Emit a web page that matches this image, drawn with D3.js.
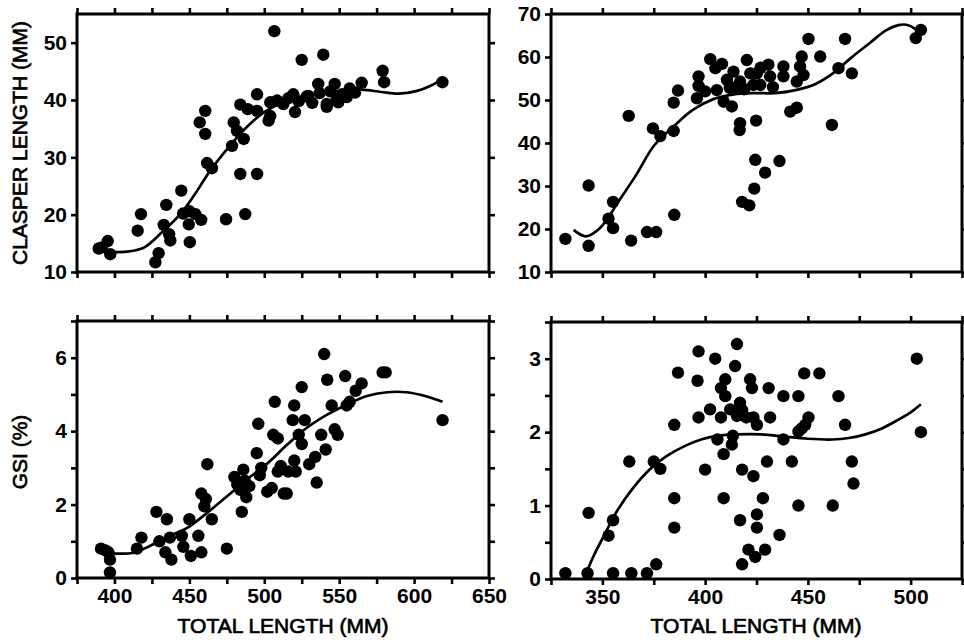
<!DOCTYPE html>
<html>
<head>
<meta charset="utf-8">
<script src="https://cdn.jsdelivr.net/npm/d3@7"></script>
<style>
  html, body { margin: 0; padding: 0; background: #fff; }
  svg { display: block; }
  .tick text { font-family: "Liberation Sans", Arial, sans-serif; font-weight: bold; font-size: 21px; fill: #000; }
  .title { font-family: "Liberation Sans", Arial, sans-serif; font-size: 21px; fill: #000; stroke: #000; stroke-width: 0.7px; }
</style>
</head>
<body>
<svg id="chart" width="964" height="642"></svg>
<script>
// ---- Tick values and labels ----
const xTicksMale = [375, 400, 425, 450, 475, 500, 525, 550, 575, 600, 625, 650];
const xLabelsMale = [400, 450, 500, 550, 600, 650];
const xTicksSub = [325, 350, 375, 400, 425, 450, 475, 500, 525];
const xLabelsSub = [350, 400, 450, 500];
const yTicksClasperA = [10, 20, 30, 40, 50];
const yTicksClasperB = [10, 20, 30, 40, 50, 60, 70];
const yTicksGsiA = [0, 1, 2, 3, 4, 5, 6, 7];
const yLabelsGsiA = [0, 2, 4, 6];
const yTicksGsiB = [0, 0.5, 1, 1.5, 2, 2.5, 3, 3.5];
const yLabelsGsiB = [0, 1, 2, 3];

// ---- Clasper length vs total length, first sample ----
const clasperA = [
  [389.5,14.1],[391.7,14.3],[395.5,15.4],[397.2,13.1],
  [415.5,17.2],[417.7,20.1],[427.3,11.7],[429.5,13.3],
  [432.9,18.2],[434.6,21.7],[436.5,16.6],[437.3,15.5],
  [444.6,24.2],[445.8,20.2],[449.6,18.3],[450.3,15.2],[450,20.6],[454,20.1],[457.9,19.1],
  [456.9,36.1],[460.6,38.1],[460.6,34.1],[461.8,29],[465.1,28.1],
  [474.5,19.2],[478.5,32],[479.6,36.1],[481.8,34.6],[484,27.1],[484,39.2],[486.3,33.2],[487.3,20.1],
  [489,38.4],[495.2,41],[495.2,38.1],[495.2,27.1],[502.9,36.4],[504,39.6],[504,37.2],[506.7,52],[508.5,39.9],
  [512.7,39.3],[516,40.3],[519.4,41],[520.5,37.9],[523,39.8],[525,47],[528.3,40.6],[529.4,40.7],[532,39.5],[536,42.8],[537,41.2],
  [539.4,47.9],[541.7,39.3],[541.7,38.8],[544,41.5],[547,42.8],[548.3,40],[549.4,39.6],[552,41],[555,40.5],[557,42],[560.6,41.3],[565,43],
  [579,45.1],[580,43.1],[618.9,43.1]
];
const clasperAFit = [
  [394,13.8],[400,13.5],[410,13.6],[420,14.3],[432,17],[444,20.1],[453,23.3],[464,27.7],[477,32],[488,35.2],
  [500,37.9],[513,39.6],[530,40.8],[550,41.6],[565,41.8],[578,41.4],[590,41.1],[602,41.6],[611,42.5],[619,43.7]
];

// ---- Clasper length vs total length, second sample ----
const clasperB = [
  [332,17.7],[343.3,16.1],[343.3,30.1],[353,22.4],[355.2,26.3],[355.2,20.2],[362.8,46.3],[364,17.3],
  [371.7,19.3],[376.2,19.3],[374.6,43.4],[378.2,41.6],[384.7,42.8],[385,23.3],[384.7,49.4],[386.8,52.2],
  [396,50.4],[396.8,55.5],[396.8,53.3],[400,52],[402.5,59.5],[405,57.4],[408.2,58.4],[405.7,52.3],[409,49.6],[413,48.5],
  [410.6,54.7],[413.8,56.6],[417,54.3],[420.3,59.3],[422,56.2],[423.5,53.5],[415,53],[419,52.5],[412,52.8],
  [417,44.6],[416.8,43],[424.8,45.2],[424.4,36.1],[423.9,29.4],[418,26.3],[421.5,25.5],
  [425.2,56.2],[426.8,53.5],[430.8,58.2],[431.6,55.5],[427,57.5],[433,53],
  [438.1,57.8],[438.1,55.5],[436.2,35.8],[429.2,33.1],[441.4,47.3],[444.6,48.2],
  [444.6,54.3],[446.2,57.8],[447,60.1],[447.9,55.8],[450.3,64.2],[456,60.1],
  [461.7,44.2],[464.9,57.4],[468.1,64.2],[471.4,56.2],[502.5,64.4],[505,66.3]
];
const clasperBFit = [
  [336,19.8],[342,18.3],[349,20.3],[358,26.5],[367,33],[375,39.3],[385,44],[394,47.7],[404,50.2],[414,51.3],
  [424,51.6],[434,51.6],[444,52.3],[454,53.8],[463,56.5],[471,59.8],[480,63.2],[488,66.2],[494,67.4],[498,67.5],[502,66.6],[505,65]
];

// ---- GSI vs total length, first sample ----
const gsiA = [
  [391,0.8],[394,0.75],[396,0.7],[397,0.5],[397,0.15],[415,0.8],[418,1.1],[428,1.8],[435,1.6],[430,1.0],
  [434,0.7],[437,1.1],[438,0.5],[445,1.15],[446,0.85],[450,1.6],[451,0.6],[456,1.15],[458,0.7],[458,2.3],
  [461,2.15],[460,1.95],[462,3.1],[465,1.6],[475,0.8],[480,2.75],[482,2.55],[484,2.4],[485,1.8],[486,2.95],
  [487,2.65],[488,2.2],[490,2.5],[495,3.4],[496,4.2],[497,2.8],[498,3.0],[502,2.35],[505,2.45],[506,3.9],
  [507,4.8],[509,3.8],[509,2.9],[511,3.05],[513,2.3],[515,2.3],[516,2.9],[519,4.3],[520,4.7],[520,3.2],
  [521,2.9],[523,3.9],[525,5.2],[525,3.65],[527,4.3],[530,3.1],[534,3.3],[535,2.6],[538,3.9],[540,6.1],
  [541,3.5],[542,5.4],[545,4.7],[547,4.05],[549,3.9],[554,5.5],[555,4.7],[557,4.8],[561,5.1],[565,5.3],
  [579,5.6],[581,5.6],[619,4.3]
];
const gsiAFit = [
  [395,0.68],[412,0.68],[421,0.82],[435,1.12],[448,1.35],[462,1.78],[475,2.22],[488,2.67],[502,3.12],[515,3.62],
  [528,4.08],[542,4.45],[555,4.72],[568,4.95],[582,5.06],[595,5.06],[608,4.95],[619,4.8]
];

// ---- GSI vs total length, second sample ----
const gsiB = [
  [332,0.08],[342.8,0.08],[343.3,0.9],[355.2,0.8],[353,0.59],[355.2,0.08],[364.1,0.08],[371.7,0.08],[376.2,0.2],
  [363.1,1.6],[375,1.6],[378.2,1.5],[385,2.1],[385,1.1],[385,0.7],[386.8,2.81],
  [396.8,3.1],[396.3,2.7],[396.8,2.2],[400,1.49],[402.4,2.31],[404.9,3.0],[406,1.9],[407.7,2.2],[407.7,2.6],[409.8,2.72],[409.8,2.49],
  [409,1.7],[409,1.1],[412.2,2.31],[413,1.83],[413.5,1.95],[415.5,3.2],[414.6,2.9],[417,2.4],[415.5,2.22],[418,2.3],[418,1.49],
  [421.9,2.72],[422.8,2.6],[420,2.2],[423.5,2.2],[425.2,2.1],[417,0.8],[418,0.2],[421.1,0.4],[424.4,0.3],[423.5,1.4],[425.2,0.88],[425.2,0.7],
  [430.9,2.6],[431.6,2.2],[430.1,1.6],[428.1,1.1],[429.2,0.4],[436.2,0.6],
  [438.1,2.49],[438.1,1.9],[442.2,1.6],[445.4,2.49],[445.4,2.01],[445.4,1.0],[447,2.05],[448.7,2.1],[450.3,2.2],[448.2,2.8],[455.6,2.8],
  [462.1,1.0],[464.9,2.49],[468.1,2.1],[471.4,1.6],[472.2,1.3],[503,3.0],[505,2.0]
];
const gsiBFit = [
  [341,0],[346,0.33],[351,0.6],[357,0.92],[365,1.24],[373,1.49],[381,1.67],[390,1.81],[398,1.9],[406,1.95],
  [416,1.97],[427,1.97],[438,1.94],[450,1.91],[462,1.9],[470,1.92],[478,1.97],[486,2.05],[494,2.17],[500,2.27],[505,2.38]
];

const svg = d3.select("#chart");
svg.append("rect").attr("width", 964).attr("height", 642).attr("fill", "#fff");

function drawPanel(cfg) {
  const x = d3.scaleLinear().domain(cfg.xDomain).range([cfg.left, cfg.right]);
  const y = d3.scaleLinear().domain(cfg.yDomain).range([cfg.bottom, cfg.top]);
  const g = svg.append("g");

  const fmt = labels => d => (labels && labels.includes(d)) ? d3.format("d")(d) : "";

  const axes = [
    [d3.axisBottom(x).tickValues(cfg.xTicks).tickFormat(fmt(cfg.xLabels)), `translate(0,${cfg.bottom})`],
    [d3.axisTop(x).tickValues(cfg.xTicks).tickFormat(() => ""), `translate(0,${cfg.top})`],
    [d3.axisLeft(y).tickValues(cfg.yTicks).tickFormat(fmt(cfg.yLabels)), `translate(${cfg.left},0)`],
    [d3.axisRight(y).tickValues(cfg.yTicks).tickFormat(() => ""), `translate(${cfg.right},0)`]
  ];
  axes.forEach(([ax, tr]) => {
    const a = g.append("g").attr("transform", tr)
      .call(ax.tickSize(6).tickSizeOuter(0).tickPadding(4));
    a.select(".domain").remove();
    a.selectAll(".tick line").attr("stroke", "#000").attr("stroke-width", 2.6);
  });

  // frame
  g.append("rect")
    .attr("x", cfg.left).attr("y", cfg.top)
    .attr("width", cfg.right - cfg.left).attr("height", cfg.bottom - cfg.top)
    .attr("fill", "none").attr("stroke", "#000").attr("stroke-width", 3);

  // fitted curve
  g.append("path")
    .datum(cfg.fit)
    .attr("fill", "none").attr("stroke", "#000").attr("stroke-width", 2.7)
    .attr("d", d3.line().x(d => x(d[0])).y(d => y(d[1])).curve(d3.curveCatmullRom.alpha(0.5)));

  // observations
  g.selectAll("circle.pt").data(cfg.points).join("circle")
    .attr("class", "pt")
    .attr("cx", d => x(d[0])).attr("cy", d => y(d[1]))
    .attr("r", 6.2).attr("fill", "#000");
}

drawPanel({ left: 77, right: 489, top: 14, bottom: 272, xDomain: [375, 650], yDomain: [10, 55],
  xTicks: xTicksMale, xLabels: null, yTicks: yTicksClasperA, yLabels: yTicksClasperA, points: clasperA, fit: clasperAFit });
drawPanel({ left: 551, right: 962, top: 14, bottom: 272, xDomain: [325, 525], yDomain: [10, 70],
  xTicks: xTicksSub, xLabels: null, yTicks: yTicksClasperB, yLabels: yTicksClasperB, points: clasperB, fit: clasperBFit });
drawPanel({ left: 77, right: 489, top: 321, bottom: 578, xDomain: [375, 650], yDomain: [0, 7],
  xTicks: xTicksMale, xLabels: xLabelsMale, yTicks: yTicksGsiA, yLabels: yLabelsGsiA, points: gsiA, fit: gsiAFit });
drawPanel({ left: 551, right: 962, top: 322, bottom: 579, xDomain: [325, 525], yDomain: [0, 3.5],
  xTicks: xTicksSub, xLabels: xLabelsSub, yTicks: yTicksGsiB, yLabels: yLabelsGsiB, points: gsiB, fit: gsiBFit });

// axis titles
svg.append("text").attr("class", "title")
  .attr("transform", "translate(20,143) rotate(-90)")
  .attr("text-anchor", "middle").attr("dy", "0.35em")
  .text("CLASPER LENGTH (MM)");
svg.append("text").attr("class", "title")
  .attr("transform", "translate(20,452) rotate(-90)")
  .attr("text-anchor", "middle").attr("dy", "0.35em")
  .text("GSI (%)");
svg.append("text").attr("class", "title")
  .attr("x", 283).attr("y", 633).attr("text-anchor", "middle")
  .text("TOTAL LENGTH (MM)");
svg.append("text").attr("class", "title")
  .attr("x", 756).attr("y", 633).attr("text-anchor", "middle")
  .text("TOTAL LENGTH (MM)");
</script>
</body>
</html>
